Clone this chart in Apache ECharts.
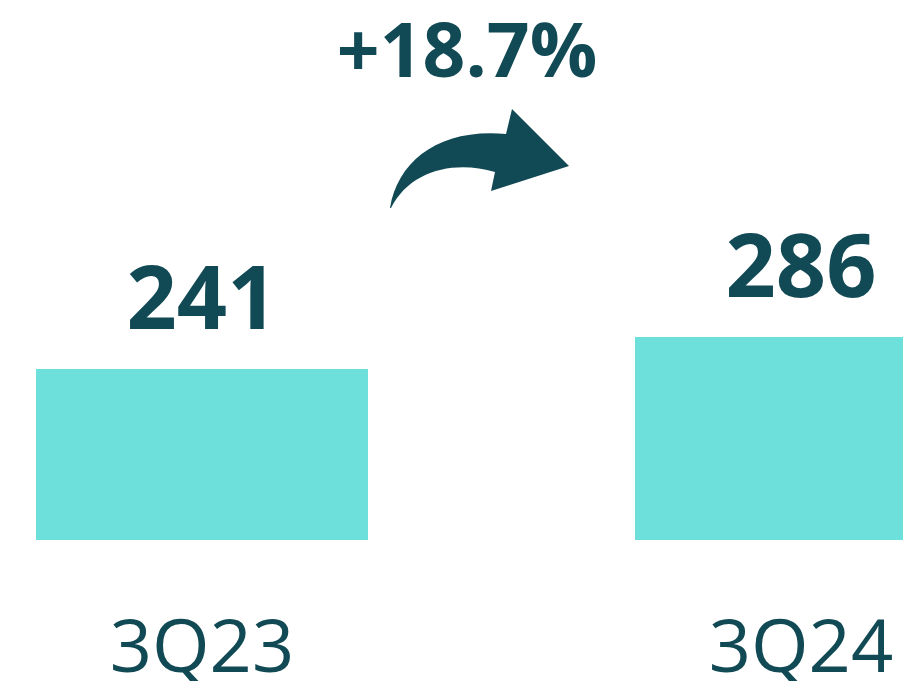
<!DOCTYPE html>
<html>
<head>
<meta charset="utf-8">
<script src="https://cdn.jsdelivr.net/npm/echarts@6/dist/echarts.min.js"></script>
<style>
html,body{margin:0;padding:0;background:#fff;overflow:hidden;}
#chart{width:903px;height:681px;}
</style>
</head>
<body>
<div id="chart"></div>
<script>
var categories = ['3Q23', '3Q24'];
var values = [241, 286];
var changeLabel = '+18.7%';

var dark = '#114a55';
var barColor = '#6de0dc';
var arrowPath = 'M390,208 C398,160 440,128 506,134 L512,109 L569,166 L491,191 L495,172 C455,160 410,170 391,208 Z';
var chart = echarts.init(document.getElementById('chart'));
chart.setOption({
  animation: false,
  grid: { left: -97.5, width: 1198, top: 0, height: 540, containLabel: false, outerBoundsMode: 'none' },
  xAxis: {
    type: 'category',
    data: categories,
    axisLine: { show: false },
    axisTick: { show: false },
    axisLabel: { color: dark, fontFamily: 'Open Sans', fontSize: 74, margin: 74, lineHeight: 74 }
  },
  yAxis: { type: 'value', min: 0, max: 761, show: false, splitLine: { show: false } },
  series: [{
    type: 'bar',
    data: values,
    barWidth: 332,
    itemStyle: { color: barColor },
    label: {
      show: true, position: 'top', distance: 21,
      color: dark, fontFamily: 'Open Sans', fontWeight: 'bold', fontSize: 88
    }
  }, {
    type: 'custom',
    data: [0],
    silent: true,
    renderItem: function () {
      return {
        type: 'path',
        shape: { pathData: arrowPath, x: 390, y: 109, width: 179, height: 99 },
        style: { fill: dark }
      };
    }
  }],
  graphic: [
    {
      type: 'text', x: 467, y: 56,
      style: { text: changeLabel, fill: dark, font: 'bold 75px "Open Sans"', align: 'center', verticalAlign: 'middle' }
    }
  ]
});
</script>
</body>
</html>
